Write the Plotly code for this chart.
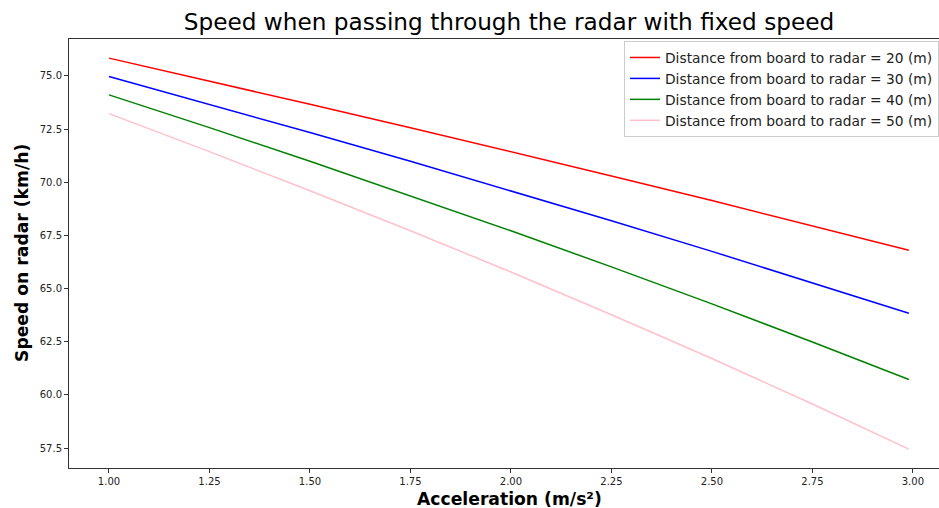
import plotly.graph_objects as go

acceleration = [1.00, 1.25, 1.50, 1.75, 2.00, 2.25, 2.50, 2.75, 2.99]
speed_d20 = [75.84, 74.77, 73.67, 72.57, 71.44, 70.30, 69.14, 67.96, 66.80]
speed_d30 = [74.98, 73.67, 72.34, 70.99, 69.60, 68.19, 66.75, 65.28, 63.84]
speed_d40 = [74.11, 72.57, 70.99, 69.37, 67.72, 66.02, 64.28, 62.49, 60.72]
speed_d50 = [73.23, 71.44, 69.60, 67.72, 65.78, 63.77, 61.71, 59.57, 57.45]

series = [
    ("Distance from board to radar = 20 (m)", speed_d20, "red"),
    ("Distance from board to radar = 30 (m)", speed_d30, "blue"),
    ("Distance from board to radar = 40 (m)", speed_d40, "green"),
    ("Distance from board to radar = 50 (m)", speed_d50, "pink"),
]

x_ticks = [1.00, 1.25, 1.50, 1.75, 2.00, 2.25, 2.50, 2.75, 3.00]
y_ticks = [57.5, 60.0, 62.5, 65.0, 67.5, 70.0, 72.5, 75.0]

FONT = "DejaVu Sans"
L, T, B = 69, 39, 40
PW, PH = 939 - L, 508 - T - B

fig = go.Figure()
for name, ys, color in series:
    fig.add_trace(go.Scatter(x=acceleration, y=ys, mode="lines", name=name,
                             line=dict(color=color, width=1.5)))

fig.update_layout(
    width=939, height=508,
    margin=dict(l=L, r=0, t=T, b=B),
    paper_bgcolor="white", plot_bgcolor="white",
    font=dict(family=FONT, color="#222222"),
    title=dict(text="Speed when passing through the radar with fixed speed",
               x=509/939, xref="container", xanchor="center",
               y=1 - 22/508, yref="container", yanchor="middle",
               font=dict(size=23.2, family=FONT, color="black")),
    showlegend=True,
    legend=dict(x=1, xanchor="right", y=1 - 2/PH, yanchor="top",
                bgcolor="rgba(255,255,255,0.8)", bordercolor="#cccccc", borderwidth=1,
                font=dict(size=13.8, family=FONT, color="#222222"),
                tracegroupgap=0, itemwidth=30),
    xaxis=dict(range=[0.9005, 3.065], tickvals=x_ticks, tickformat=".2f",
               showgrid=False, zeroline=False, showline=True, linecolor="#333333",
               linewidth=1, mirror=True, ticks="outside", ticklen=4, tickcolor="#333333",
               tickfont=dict(size=10, family=FONT, color="#222222")),
    yaxis=dict(range=[56.56, 76.74], tickvals=y_ticks, tickformat=".1f",
               showgrid=False, zeroline=False, showline=True, linecolor="#333333",
               linewidth=1, ticks="outside", ticklen=4, tickcolor="#333333",
               tickfont=dict(size=10, family=FONT, color="#222222")),
    annotations=[
        dict(text="<b>Acceleration (m/s²)</b>", xref="paper", yref="paper",
             x=(509 - L) / PW, y=(468 - 499) / PH, xanchor="center", yanchor="middle",
             showarrow=False, font=dict(size=17.2, family=FONT, color="black")),
        dict(text="<b>Speed on radar (km/h)</b>", xref="paper", yref="paper",
             x=(22 - L) / PW, y=(468 - 253) / PH, xanchor="center", yanchor="middle",
             textangle=-90,
             showarrow=False, font=dict(size=17.2, family=FONT, color="black")),
    ],
)

fig.write_html("out.html", config={"displayModeBar": False},
               post_script="document.body.style.margin='0px';document.body.style.overflow='hidden';")
